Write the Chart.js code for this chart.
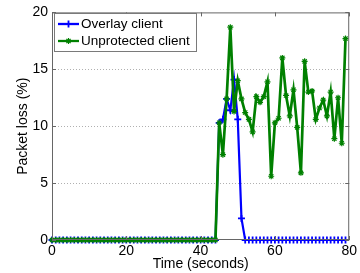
<!DOCTYPE html>
<html>
<head>
<meta charset="utf-8">
<script src="https://cdn.jsdelivr.net/npm/chart.js@4/dist/chart.umd.min.js"></script>
<style>
  html, body { margin: 0; padding: 0; background: #fff; }
  #wrap { width: 360px; height: 273px; }
</style>
</head>
<body>
<div id="wrap"><canvas id="chart"></canvas></div>
<script>
// seconds
const times = [0, 1, 2, 3, 4, 5, 6, 7, 8, 9, 10, 11, 12, 13, 14, 15, 16, 17, 18, 19,
    20, 21, 22, 23, 24, 25, 26, 27, 28, 29, 30, 31, 32, 33, 34, 35, 36, 37, 38, 39,
    40, 41, 42, 43, 44, 45, 46, 47, 48, 49, 50, 51, 52, 53, 54, 55, 56, 57, 58, 59,
    60, 61, 62, 63, 64, 65, 66, 67, 68, 69, 70, 71, 72, 73, 74, 75, 76, 77, 78, 79];

const overlayLoss = [0, 0, 0, 0, 0, 0, 0, 0, 0, 0, 0, 0, 0, 0, 0, 0, 0, 0, 0, 0,
    0, 0, 0, 0, 0, 0, 0, 0, 0, 0, 0, 0, 0, 0, 0, 0, 0, 0, 0, 0,
    0, 0, 0, 0, 0, 10.3, 10.6, 12.4, 11.4, 14.1, 10.6, 1.9, 0, 0, 0, 0, 0, 0, 0, 0,
    0, 0, 0, 0, 0, 0, 0, 0, 0, 0, 0, 0, 0, 0, 0, 0, 0, 0, 0, 0];

const unprotectedLoss = [0, 0, 0, 0, 0, 0, 0, 0, 0, 0, 0, 0, 0, 0, 0, 0, 0, 0, 0, 0,
    0, 0, 0, 0, 0, 0, 0, 0, 0, 0, 0, 0, 0, 0, 0, 0, 0, 0, 0, 0,
    0, 0, 0, 0, 0, 10.3, 7.5, 12.4, 18.7, 11.3, 14.0, 12.4, 11.2, 10.6, 9.5, 12.6, 12.1, 12.6, 13.9, 5.6,
    10.3, 10.7, 16.0, 12.7, 10.9, 13.2, 9.9, 5.9, 15.7, 13.0, 13.1, 10.6, 11.6, 12.3, 10.9, 13.0, 8.9, 12.5, 8.5, 17.7];

const xTicks = [0, 20, 40, 60, 80];
const yTicks = [0, 5, 10, 15, 20];
const seriesNames = ['Overlay client', 'Unprotected client'];

const FONT = '"Liberation Sans", Arial, sans-serif';
const BLUE = '#0000ff';
const GREEN = '#008000';

// dotted horizontal grid, drawn under the lines
const dottedGrid = {
    id: 'dottedGrid',
    beforeDatasetsDraw(chart) {
        const { ctx, chartArea: a, scales } = chart;
        ctx.save();
        ctx.strokeStyle = '#b0b0b0';
        ctx.lineWidth = 1;
        ctx.setLineDash([1, 2]);
        ctx.beginPath();
        yTicks.slice(1, -1).forEach(v => {
            const y = Math.round(scales.y.getPixelForValue(v)) + 0.5;
            ctx.moveTo(a.left, y); ctx.lineTo(a.right, y);
        });
        ctx.stroke();
        ctx.restore();
    }
};

// MATLAB style box with inward ticks, plus legend box
const matlabBox = {
    id: 'matlabBox',
    afterDatasetsDraw(chart) {
        const { ctx, chartArea: a, scales } = chart;
        ctx.save();
        ctx.strokeStyle = '#666';
        ctx.lineWidth = 1;
        ctx.strokeRect(a.left + 0.5, a.top + 0.5, a.right - a.left - 1, a.bottom - a.top - 1);
        ctx.beginPath();
        xTicks.forEach(v => {
            const x = Math.round(scales.x.getPixelForValue(v)) + 0.5;
            ctx.moveTo(x, a.bottom); ctx.lineTo(x, a.bottom - 4);
            ctx.moveTo(x, a.top); ctx.lineTo(x, a.top + 4);
        });
        yTicks.forEach(v => {
            const y = Math.round(scales.y.getPixelForValue(v)) + 0.5;
            ctx.moveTo(a.left, y); ctx.lineTo(a.left + 4, y);
            ctx.moveTo(a.right, y); ctx.lineTo(a.right - 4, y);
        });
        ctx.stroke();

        // legend
        const bx = 54.5, by = 13.5, bw = 142, bh = 38;
        ctx.fillStyle = '#fff';
        ctx.fillRect(bx, by, bw, bh);
        ctx.strokeStyle = '#7a7a7a';
        ctx.strokeRect(bx, by, bw, bh);
        const items = [
            { label: seriesNames[0], color: BLUE, style: 'cross', r: 3.5, w: 1.8, y: 24 },
            { label: seriesNames[1], color: GREEN, style: 'star', r: 3, w: 1.2, y: 41 }
        ];
        items.forEach(it => {
            ctx.strokeStyle = it.color;
            ctx.fillStyle = it.color;
            ctx.lineWidth = 2.3;
            ctx.beginPath();
            ctx.moveTo(58, it.y); ctx.lineTo(79, it.y);
            ctx.stroke();
            ctx.lineWidth = it.w;
            Chart.helpers.drawPoint(ctx, { pointStyle: it.style, radius: it.r, borderWidth: it.w }, 68.5, it.y);
            ctx.fillStyle = '#000';
            ctx.font = '13.5px ' + FONT;
            ctx.textBaseline = 'middle';
            ctx.textAlign = 'left';
            ctx.fillText(it.label, 81, it.y);
        });
        ctx.restore();
    }
};

new Chart(document.getElementById('chart'), {
    type: 'line',
    data: {
        datasets: [{
            label: seriesNames[0],
            data: times.map((t, i) => ({ x: t, y: overlayLoss[i] })),
            borderColor: BLUE,
            backgroundColor: BLUE,
            borderWidth: 2.2,
            pointStyle: 'cross',
            pointRadius: 3.5,
            pointBorderWidth: 1.8,
            clip: false,
            order: 1
        }, {
            label: seriesNames[1],
            data: times.map((t, i) => ({ x: t, y: unprotectedLoss[i] })),
            borderColor: GREEN,
            backgroundColor: GREEN,
            borderWidth: 2.7,
            pointStyle: 'star',
            pointRadius: 3,
            pointBorderWidth: 1.2,
            clip: false,
            order: 0
        }]
    },
    options: {
        responsive: true,
        maintainAspectRatio: false,
        animation: false,
        layout: { padding: { left: 0, right: 5, top: 11, bottom: 0 } },
        plugins: { legend: { display: false }, tooltip: { enabled: false } },
        scales: {
            x: {
                type: 'linear',
                min: 0,
                max: 80,
                afterBuildTicks: s => { s.ticks = xTicks.map(v => ({ value: v })); },
                afterFit: s => { s.height = 33; },
                grid: { display: false, drawTicks: false },
                border: { display: false },
                ticks: { color: '#000', padding: 3, font: { family: FONT, size: 14 } },
                title: {
                    display: true,
                    text: 'Time (seconds)',
                    color: '#000',
                    font: { family: FONT, size: 14 },
                    padding: { top: 0, bottom: 0 }
                }
            },
            y: {
                min: 0,
                max: 20,
                afterBuildTicks: s => { s.ticks = yTicks.map(v => ({ value: v })); },
                afterFit: s => { s.width = 52; },
                grid: { display: false, drawTicks: false },
                border: { display: false },
                ticks: { color: '#000', padding: 4, font: { family: FONT, size: 14 } },
                title: {
                    display: true,
                    text: 'Packet loss (%)',
                    color: '#000',
                    font: { family: FONT, size: 14 },
                    padding: { top: 15, bottom: 0 }
                }
            }
        }
    },
    plugins: [dottedGrid, matlabBox]
});
</script>
</body>
</html>
